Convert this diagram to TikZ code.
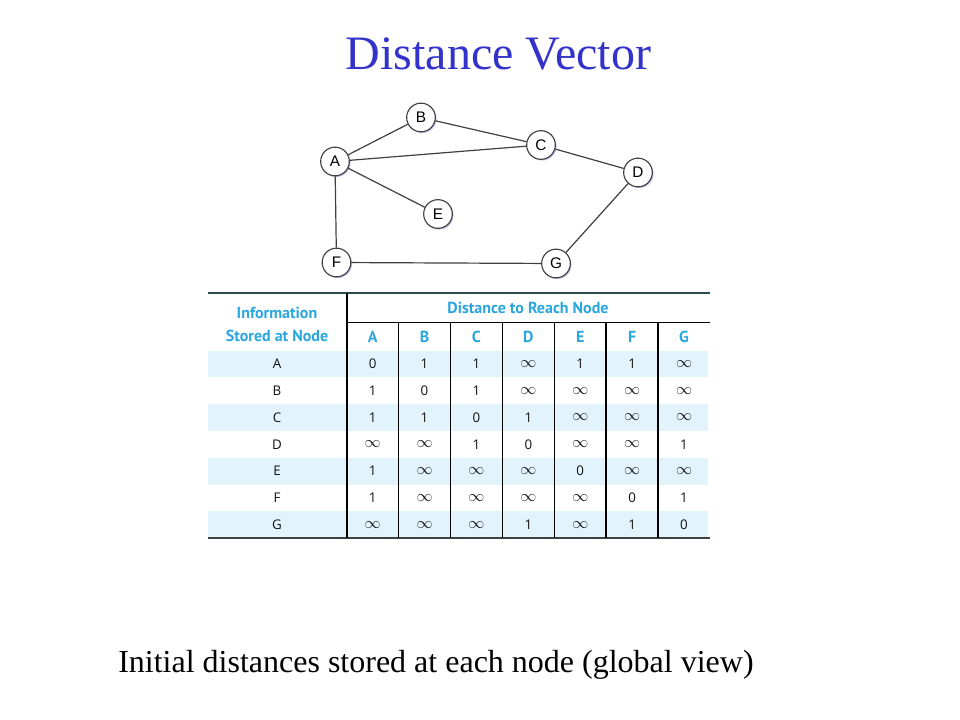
\documentclass[tikz,border=0pt]{standalone}
\usepackage{fontspec}
\setmainfont{Liberation Serif}
\newfontfamily\tabfont{PT Sans}
\newfontfamily\cellfont{Open Sans}
\newfontfamily\nodefont{Liberation Sans}
\usetikzlibrary{shadows}
\definecolor{titleblue}{HTML}{3333CC}
\definecolor{headcyan}{HTML}{2AA6DE}
\definecolor{rowshade}{HTML}{E2F3FC}
\definecolor{edgegray}{HTML}{404040}
\definecolor{topline}{HTML}{2E4B52}
\definecolor{celltext}{HTML}{111111}
\newcommand\inff{{\fontsize{12.5}{12}\selectfont$\infty$}}
\begin{document}
\begin{tikzpicture}[x=0.75pt,y=-0.75pt,
  gnode/.style={circle,draw=edgegray,line width=0.85pt,fill=white,minimum size=21.5pt,inner sep=0pt,
    font=\nodefont\fontsize{11.5}{12}\selectfont,
    drop shadow={shadow xshift=0.9pt,shadow yshift=-0.9pt,fill=blue!45!gray,opacity=0.35}},
  gedge/.style={draw=edgegray,line width=0.9pt},
  headtxt/.style={font=\tabfont\bfseries\fontsize{12}{14}\selectfont,text=headcyan,inner sep=0pt},
  celltxt/.style={font=\cellfont\fontsize{10}{12}\selectfont,text=celltext,inner sep=0pt},
  vline/.style={draw=black,line width=1.2pt},
  thickvline/.style={draw=black,line width=1.6pt},
  hline/.style={draw=black,line width=1.1pt}
]
\useasboundingbox[fill=white] (0,0) rectangle (960,720);

% title
\node[anchor=base,text=titleblue,inner sep=0pt,font=\fontsize{36}{42}\selectfont] (title) at (498.5,70) {Distance Vector};

% graph
\node[gnode] (A) at (335,161.5) {A};
\node[gnode] (B) at (421,117.5) {B};
\node[gnode] (C) at (541,145) {C};
\node[gnode] (D) at (638,172.5) {D};
\node[gnode] (E) at (438,214) {E};
\node[gnode] (F) at (336.5,262.5) {F};
\node[gnode] (G) at (556,263.5) {G};
\draw[gedge] (A) -- (B);
\draw[gedge] (B) -- (C);
\draw[gedge] (A) -- (C);
\draw[gedge] (C) -- (D);
\draw[gedge] (A) -- (E);
\draw[gedge] (A) -- (F);
\draw[gedge] (F) -- (G);
\draw[gedge] (G) -- (D);

% table shading
\foreach \i in {0,2,4,6} {
  \fill[rowshade] (208,350.5+26.8*\i) rectangle (708,350.5+26.8*\i+26.8);
}
% lines
\draw[draw=topline,line width=1pt] (208,293) -- (710,293);
\draw[hline] (346.7,322.5) -- (710,322.5);
\draw[draw=edgegray,line width=1.5pt] (208,538.3) -- (710,538.3);
\draw[thickvline] (346.7,293) -- (346.7,538.3);
\foreach \k in {1,...,6} {
  \draw[vline] (346.7+51.9*\k,322.5) -- (346.7+51.9*\k,538.3);
}

% header texts
\node[headtxt] (hinfo) at (277,313) {Information};
\node[headtxt] (hstored) at (277,336) {Stored at Node};
\node[headtxt] (hdist) at (528,308) {Distance to Reach Node};
\foreach \c [count=\j from 0] in {A,B,C,D,E,F,G} {
  \node[headtxt] (h\c) at (346.7+51.9*\j+25.95,336.5) {\c};
}

% data
\foreach \lab/\vals [count=\i from 0] in {
  A/{0,1,1,\inff,1,1,\inff},
  B/{1,0,1,\inff,\inff,\inff,\inff},
  C/{1,1,0,1,\inff,\inff,\inff},
  D/{\inff,\inff,1,0,\inff,\inff,1},
  E/{1,\inff,\inff,\inff,0,\inff,\inff},
  F/{1,\inff,\inff,\inff,\inff,0,1},
  G/{\inff,\inff,\inff,1,\inff,1,0}} {
  \node[celltxt] (row\lab) at (277,350.5+26.8*\i+13.4) {\lab};
  \foreach \v [count=\j from 0] in \vals {
    \node[celltxt] (cell\lab\j) at (346.7+51.9*\j+25.95,350.5+26.8*\i+13.4) {\v};
  }
}

% caption
\node[anchor=base west,inner sep=0pt,font=\fontsize{24}{28}\selectfont] (caption) at (118,672) {Initial distances stored at each node (global view)};
\end{tikzpicture}
\end{document}
